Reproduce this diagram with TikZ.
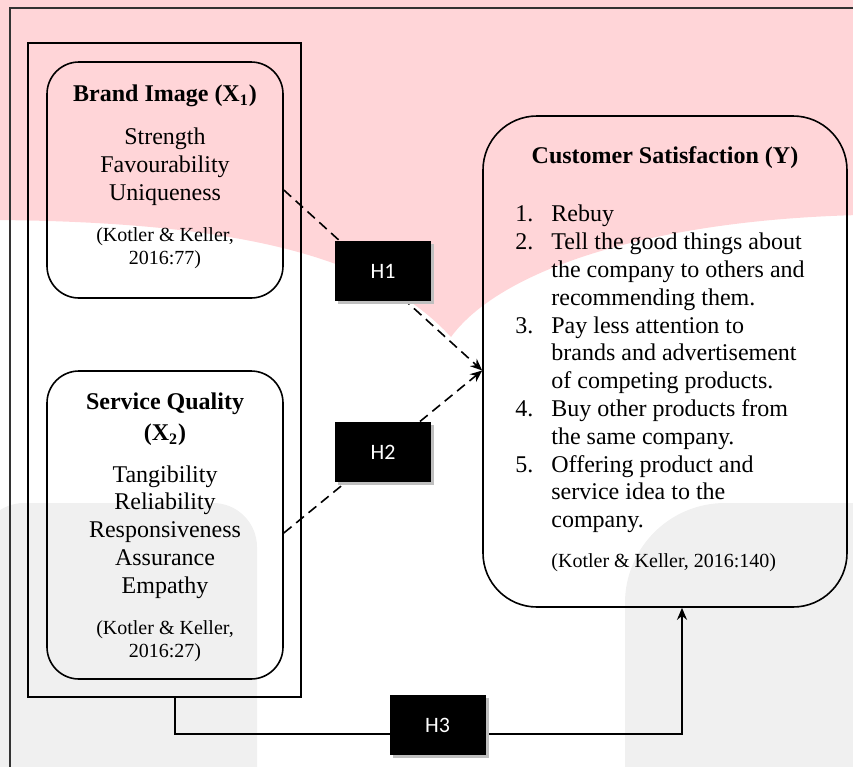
\documentclass[tikz,border=0pt]{standalone}
\usepackage{fontspec}
\setmainfont{Liberation Serif}
\newfontfamily\hfont{Carlito}
\usepackage{tikz}
\usetikzlibrary{arrows.meta,shapes,positioning,calc,shadows}
\usepackage{xcolor}

\definecolor{wmpink}{RGB}{255,213,216}
\definecolor{wmgray}{RGB}{240,240,240}

% list numbers and the indent of wrapped lines
\newcommand{\itemno}[1]{\makebox[18pt][l]{#1.}}
\newcommand{\wrapin}{\hspace*{18pt}}

\tikzset{
    concept/.style={draw, thick, rounded corners=16pt, minimum width=118pt},
    hypo/.style={fill=black, text=white, font=\hfont\fontsize{11}{13}\selectfont,
        minimum width=48pt, minimum height=30pt,
        drop shadow={shadow xshift=1.5pt, shadow yshift=-1.5pt, fill=black!25, opacity=1}},
    dashlink/.style={thick, dash pattern=on 5pt off 3pt, -{Stealth[length=6pt,width=5pt]}},
    bodytext/.style={font=\fontsize{12}{13.9}\selectfont, align=center, inner sep=0pt},
    refnote/.style={font=\fontsize{10}{11.5}\selectfont, align=center, inner sep=0pt},
}

\begin{document}
\begin{tikzpicture}[x=0.5pt, y=-0.5pt]
    \useasboundingbox (0,0) rectangle (853,767);
    \clip (0,0) rectangle (853,767);

    % background marks
    \fill[wmpink] (-5,-5) -- (860,-5) -- (860,215) .. controls (650,220) and (500,270) .. (451,337)
        .. controls (380,260) and (250,222) .. (-5,220) -- cycle;
    \fill[wmgray, rounded corners=22pt] (-20,950) -- (-20,503) -- (257,503) -- (257,950) -- cycle;
    \fill[wmgray, rounded corners=50pt] (625,950) -- (625,503) -- (950,503) -- (950,950) -- cycle;

    % outer frame
    \draw[thick, black!80] (10,800) -- (10,8) -- (870,8);

    % independent variables
    \node[draw, thick, minimum width=136.5pt, minimum height=327pt] (grp) at (164.5,370) {};
    \node[concept, minimum height=118pt] (bi) at (165,180) {};
    \node[concept, minimum height=154pt] (sq) at (165,525) {};

    \node[bodytext] (bihead) at (165,96) {\textbf{Brand Image (X\textsubscript{1})}};
    \node[bodytext] (biitems) at (165,167) {Strength\\Favourability\\Uniqueness};
    \node[refnote] (biref) at (165,248.5) {(Kotler \& Keller,\\2016:77)};

    \node[bodytext] (sqhead) at (165,419.5) {\textbf{Service Quality}\\[1.5pt]\textbf{(X\textsubscript{2})}};
    \node[bodytext] (sqitems) at (165,532) {Tangibility\\Reliability\\Responsiveness\\Assurance\\Empathy};
    \node[refnote] (sqref) at (165,641.5) {(Kotler \& Keller,\\2016:27)};

    % dependent variable
    \node[draw, thick, rounded corners=27pt, minimum width=182pt, minimum height=245.5pt] (cs) at (665,361.5) {};
    \node[bodytext] (cshead) at (665,158) {\textbf{Customer Satisfaction (Y)}};
    \node[bodytext, align=left, anchor=west] (cslist) at (515,369) {%
        \itemno{1}Rebuy\\
        \itemno{2}Tell the good things about\\
        \wrapin the company to others and\\
        \wrapin recommending them.\\
        \itemno{3}Pay less attention to\\
        \wrapin brands and advertisement\\
        \wrapin of competing products.\\
        \itemno{4}Buy other products from\\
        \wrapin the same company.\\
        \itemno{5}Offering product and\\
        \wrapin service idea to the\\
        \wrapin company.};
    \node[refnote, anchor=west] (csref) at (551,563) {(Kotler \& Keller, 2016:140)};

    % H1 and H2
    \coordinate (tip) at ([yshift=-4.5pt]cs.west);
    \draw[dashlink] ([yshift=-5pt]bi.east) -- (tip);
    \draw[dashlink] ([yshift=-4pt]sq.east) -- (tip);
    \node[hypo] (h1) at (383,271) {H1};
    \node[hypo] (h2) at (383,452) {H2};

    % H3
    \draw[line width=1.3pt, -{Stealth[length=6pt,width=5pt]}] ([xshift=5.25pt]grp.south) -- ++(0,36)
        -| ([xshift=8.5pt]cs.south);
    \node[hypo] (h3) at (437.5,725) {H3};
\end{tikzpicture}
\end{document}
